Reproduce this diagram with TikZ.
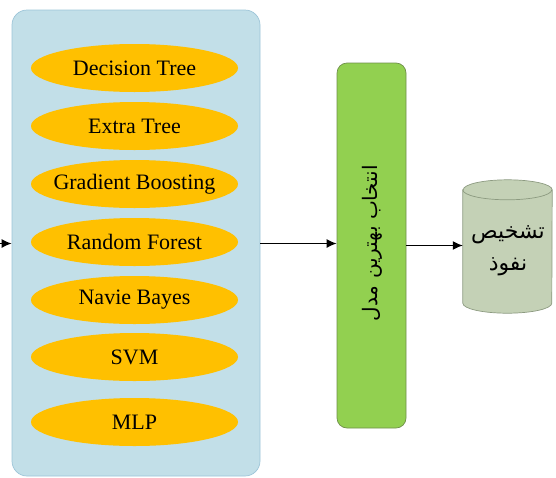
\documentclass[tikz,border=0pt]{standalone}
\usepackage{fontspec}
\setmainfont{Liberation Serif}
\newfontfamily\fa[Script=Arabic]{DejaVu Sans}
\TeXXeTstate=1
\usetikzlibrary{shapes.geometric,arrows.meta}
\definecolor{boxblue}{HTML}{C2DFE8}
\definecolor{boxblueline}{HTML}{9DC5D8}
\definecolor{ellorange}{HTML}{FFC000}
\definecolor{selgreen}{HTML}{92D050}
\definecolor{selgreenline}{HTML}{6F8F4A}
\definecolor{cylfill}{HTML}{C4D1B6}
\definecolor{cylline}{HTML}{8C9A80}
\newcommand{\mtxt}[1]{\makebox[0pt]{#1}}
\begin{document}
\begin{tikzpicture}[x=1pt,y=-1pt,
  model/.style={ellipse,fill=ellorange,minimum width=207pt,minimum height=48pt,inner sep=0pt,font=\fontsize{22}{26}\selectfont},
  arr/.style={-{Latex[length=10pt,width=9pt]},line width=1.3pt}]
\useasboundingbox (0,0) rectangle (556,477);
\node[draw=boxblueline,fill=boxblue,rounded corners=15pt,minimum width=248pt,minimum height=466pt,inner sep=0pt,line width=0.7pt] (box) at (136,243) {};
\node[model] (dt) at (134.5,68) {\mtxt{Decision Tree}};
\node[model] (et) at (134.5,126) {\mtxt{Extra Tree}};
\node[model] (gb) at (134.5,184) {\mtxt{Gradient Boosting}};
\node[model] (rf) at (134.5,242) {\mtxt{Random Forest}};
\node[model] (nb) at (134.5,300) {\mtxt{Navie Bayes}};
\node[model] (svm) at (134.5,357) {\mtxt{SVM}};
\node[model] (mlp) at (134.5,422) {\mtxt{MLP}};
\node[draw=selgreenline,fill=selgreen,rounded corners=10pt,minimum width=69pt,minimum height=365pt,inner sep=0pt,line width=0.7pt] (sel) at (371.5,245.5) {};
\node[rotate=90,font=\fa\fontsize{20}{24}\selectfont] (seltxt) at (372,243) {\beginR انتخاب بهترین مدل\endR};
\node[minimum width=89pt,minimum height=133pt,inner sep=0pt] (cyl) at (507.5,246.5) {};
\filldraw[draw=cylline,fill=cylfill,line width=0.7pt]
  ([yshift=-10pt]cyl.north west) -- ([yshift=10pt]cyl.south west)
  arc[start angle=180,end angle=360,x radius=44.5pt,y radius=10pt]
  -- ([yshift=-10pt]cyl.north east)
  arc[start angle=0,end angle=180,x radius=44.5pt,y radius=10pt] -- cycle;
\draw[draw=cylline,line width=0.7pt] ([yshift=-10pt]cyl.north west)
  arc[start angle=180,end angle=360,x radius=44.5pt,y radius=10pt];
\node[align=center,font=\fa\fontsize{22}{32}\selectfont] (cyltxt) at (508,251) {\beginR تشخیص\endR\\\beginR نفوذ\endR};
\coordinate (in) at (0,243.5);
\draw[arr] (in) -- (in -| box.west);
\draw[arr] ([yshift=-0.5pt]box.east) -- ([yshift=-0.5pt]box.east -| sel.west);
\draw[arr] (sel.east) -- (sel.east -| cyl.west);
\end{tikzpicture}
\end{document}
